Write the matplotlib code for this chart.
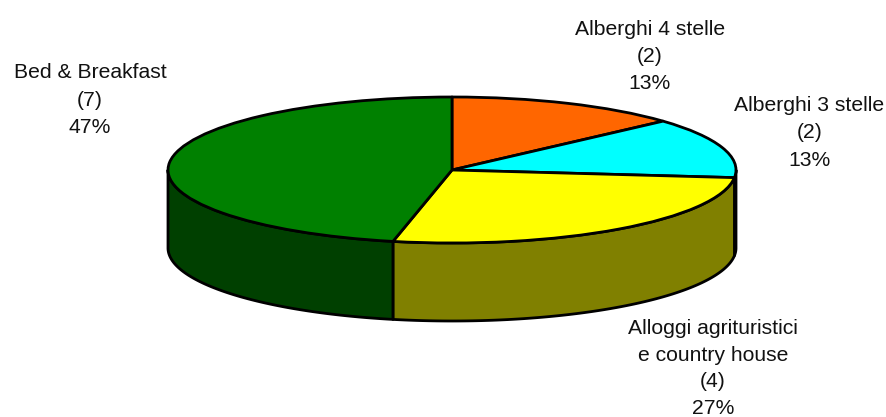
import numpy as np
import matplotlib
matplotlib.use("Agg")
import matplotlib.pyplot as plt
from matplotlib.patches import Wedge, Polygon
from matplotlib.transforms import Affine2D

categories = ["Alberghi 4 stelle", "Alberghi 3 stelle", "Alloggi agrituristici\ne country house", "Bed & Breakfast"]
values = [2, 2, 4, 7]
percent_labels = ["13%", "13%", "27%", "47%"]
top_colors = ["#FF6600", "#00FFFF", "#FFFF00", "#008000"]
side_colors = ["#803300", "#008080", "#808000", "#004000"]
label_anchors = [(650, 35), (809.5, 111), (713, 334), (90, 78)]
line_steps = [27.0, 27.3, 26.7, 27.5]

W, H = 887, 417
CX, CY, RX, RY, DEPTH = 452, 170, 284, 73, 78
LW = 2.0

fig = plt.figure(figsize=(W / 100, H / 100), dpi=100)
ax = fig.add_axes([0, 0, 1, 1])
ax.set_xlim(0, W)
ax.set_ylim(H, 0)
ax.axis("off")

frac = np.array(values, dtype=float) / sum(values)
edges = np.concatenate([[0], np.cumsum(frac)]) * 360.0  # clockwise from top


def point(t, dy=0.0):
    r = np.radians(t)
    return CX + RX * np.sin(r), CY - RY * np.cos(r) + dy


# side walls
for i in range(len(values)):
    a, b = max(edges[i], 90), min(edges[i + 1], 270)
    if b <= a:
        continue
    ts = np.linspace(a, b, 120)
    upper = np.column_stack(point(ts))
    lower = np.column_stack(point(ts[::-1], DEPTH))
    ax.add_patch(Polygon(np.vstack([upper, lower]), closed=True, facecolor=side_colors[i],
                         edgecolor="black", linewidth=LW, joinstyle="round", zorder=2))

# top face: data y axis points down, so wedge angles measured from the top run clockwise
tr = Affine2D().scale(RX, RY).translate(CX, CY) + ax.transData
for i in range(len(values)):
    ax.add_patch(Wedge((0, 0), 1, edges[i] - 90, edges[i + 1] - 90, facecolor=top_colors[i],
                       edgecolor="black", linewidth=LW, joinstyle="round", transform=tr, zorder=3))

# labels
for name, v, p, (x, y), step in zip(categories, values, percent_labels, label_anchors, line_steps):
    lines = name.split("\n") + [f"({v})", p]
    for k, s in enumerate(lines):
        ax.text(x, y + k * step, s, ha="center", va="baseline", fontsize=15.2, color="#111111",
                family="Liberation Sans", clip_on=False)

fig.savefig("out.png", dpi=100)
